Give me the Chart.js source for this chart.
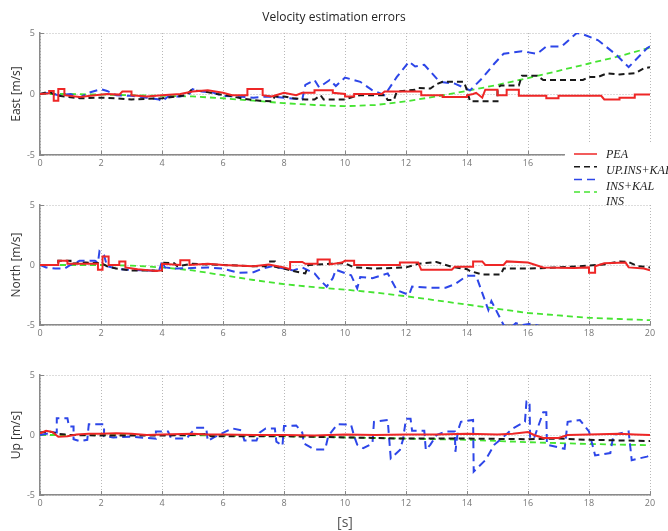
<!DOCTYPE html>
<html>
<head>
<meta charset="utf-8">
<title>Velocity estimation errors</title>
<script src="https://cdn.jsdelivr.net/npm/chart.js@4.4.1/dist/chart.umd.min.js"></script>
<style>
    body { margin: 0; background: #fff; }
    #wrap { position: relative; width: 668px; height: 531px; background: #fff; }
    canvas { position: absolute; left: 0; }
</style>
</head>
<body>
<div id="wrap">
    <canvas id="chart-up" width="668" height="181" style="top:350px"></canvas>
    <canvas id="chart-north" width="668" height="175" style="top:175px"></canvas>
    <canvas id="chart-east" width="668" height="206" style="top:0px"></canvas>
</div>
<script>
// tick labels / ranges
var xTicks = [0, 2, 4, 6, 8, 10, 12, 14, 16, 18, 20];
var yTicks = [-5, 0, 5];
var seriesNames = ['PEA', 'UP.INS+KAL', 'INS+KAL', 'INS'];
var panelLabels = ['East [m/s]', 'North [m/s]', 'Up [m/s]'];

// East: [time s, error m/s]
var eastPEA = [[0,0],[0.3,0.05],[0.3,0.25],[0.45,0.25],[0.45,-0.55],[0.6,-0.55],[0.6,0.4],[0.8,0.4],[0.8,-0.1],[1.3,-0.25],[1.8,-0.1],[2.2,0],[2.6,-0.05],[2.7,0.2],[3,0.2],[3,-0.1],[3.5,-0.2],[4,-0.1],[4.6,0],[5,0.2],[5.5,0.3],[6,0.1],[6.3,-0.1],[6.8,-0.1],[6.8,0.4],[7.3,0.4],[7.3,-0.1],[7.6,-0.2],[8,0.1],[8.4,-0.1],[8.6,0.1],[9,0.1],[9,0.3],[9.6,0.3],[9.6,0.1],[10,0],[10,-0.2],[10.3,-0.2],[10.3,0],[11.2,0],[11.3,0.2],[12.5,0.2],[12.5,-0.1],[13.2,-0.1],[13.2,-0.25],[14,-0.25],[14,-0.1],[14.2,0],[14.3,0.1],[14.5,-0.3],[14.6,0.35],[15,0.35],[15,-0.1],[15.3,-0.1],[15.3,0.35],[15.7,0.35],[15.7,-0.15],[16.6,-0.15],[16.6,-0.35],[17,-0.35],[17,-0.15],[18.4,-0.15],[18.5,-0.45],[19,-0.45],[19,-0.3],[19.5,-0.3],[19.5,-0.05],[20,-0.05]];
var eastUP = [[0,0],[0.3,0.2],[0.5,-0.1],[0.8,-0.2],[1.3,-0.35],[2,-0.3],[2.5,-0.35],[3,-0.45],[3.5,-0.4],[4,-0.35],[4.5,-0.2],[4.8,-0.1],[4.95,0.3],[5.3,0.25],[5.8,0],[6.2,-0.15],[6.7,-0.4],[7.2,-0.55],[7.6,-0.6],[7.7,-0.2],[8,-0.2],[8.3,-0.35],[8.7,-0.45],[9,-0.45],[9.2,-0.1],[9.3,-0.45],[10,-0.45],[10.3,-0.2],[10.5,-0.1],[11.3,-0.1],[11.4,-0.5],[11.6,-0.5],[11.7,0.2],[12.3,0.35],[12.4,0.5],[12.8,0.45],[13,0.8],[13.2,1],[13.9,1],[14,0.3],[14.1,-0.6],[15,-0.6],[15,0.45],[15.1,0.7],[15.7,0.7],[15.8,1.5],[16.3,1.5],[16.5,1.15],[17.8,1.15],[18,1.4],[18.3,1.4],[18.6,1.7],[19,1.6],[19.5,1.7],[19.8,2.1],[20,2.2]];
var eastKAL = [[0,0],[0.3,0.1],[0.6,-0.1],[1,0],[1.3,-0.3],[1.6,0.1],[2,0.4],[2.2,0.25],[2.5,-0.1],[3,-0.15],[3.5,-0.3],[3.9,-0.45],[4,-0.6],[4.2,-0.2],[4.6,-0.2],[4.9,0],[5,0.4],[5.3,0.2],[5.7,0.1],[6,-0.15],[6.5,-0.2],[7,-0.3],[7.5,-0.2],[8,-0.3],[8.6,-0.45],[8.7,0.75],[9,1.15],[9.15,0.55],[9.5,1.15],[9.7,0.65],[10,1.35],[10.5,1],[10.9,0.3],[11.3,-0.1],[11.7,1.4],[12.1,2.65],[12.3,2.25],[12.6,2.4],[13.1,1],[13.6,0.85],[14.1,0.3],[14.5,1.3],[14.9,2.5],[15.2,3.3],[15.8,3.5],[16.3,3.3],[16.6,3.9],[17.1,3.9],[17.6,5],[17.8,4.9],[18.3,4.4],[18.9,3.2],[19.3,2.2],[19.9,3.75],[20,3.9]];
var eastINS = [[0,0],[1,0],[2,-0.05],[3,-0.1],[4,-0.15],[5,-0.2],[6,-0.35],[7,-0.55],[8,-0.75],[9,-0.9],[10,-1],[11,-0.9],[12,-0.6],[13,-0.2],[14,0.25],[15,0.75],[16,1.3],[17,1.9],[18,2.5],[19,3.1],[20,3.8]];

// North
var northPEA = [[0,0],[0.6,0],[0.6,0.35],[0.9,0.35],[0.9,0.1],[1.9,0.1],[1.9,-0.4],[2.05,-0.4],[2.05,0.7],[2.25,0.7],[2.25,0],[2.6,0],[2.6,0.3],[2.8,0.3],[2.8,-0.2],[3.2,-0.35],[3.8,-0.5],[4,-0.45],[4,0.1],[4.6,0],[4.6,0.4],[4.9,0.4],[4.9,0],[5.5,0.1],[6,0],[7,-0.1],[7.5,0.05],[8,-0.2],[8.2,-0.35],[8.2,0.25],[8.6,0.25],[8.7,0.1],[9.1,0.1],[9.1,0.45],[9.5,0.45],[9.5,0.05],[9.9,0.2],[10,0.35],[10.3,0.35],[10.3,0],[11.8,0],[11.8,0.2],[12.4,0.2],[12.5,-0.4],[13.5,-0.4],[13.6,-0.15],[14.2,-0.15],[14.2,0.3],[14.5,0.3],[14.6,0],[15.2,0],[15.3,0.3],[16,0.2],[16.5,-0.2],[17.5,-0.25],[18,-0.2],[18,-0.65],[18.2,-0.65],[18.2,-0.1],[18.5,0.15],[19.2,0.2],[19.3,-0.2],[19.8,-0.3],[20,-0.45]];
var northUP = [[0,0],[0.6,0],[0.6,0.35],[1,0.35],[1,0.1],[1.5,0.2],[2,0.15],[2.2,-0.1],[2.5,-0.3],[3,-0.45],[3.5,-0.45],[4,-0.5],[4,0.2],[4.4,0.15],[4.5,-0.1],[5,0.1],[5.5,0.05],[6,0],[7,-0.1],[7.4,-0.1],[7.5,0.3],[7.7,0.3],[7.7,-0.15],[8,-0.3],[8.3,-0.5],[8.7,-0.7],[8.8,0],[9.5,0.1],[10,0.15],[10.3,-0.2],[11,-0.3],[12,-0.2],[12.4,0.1],[13,0.25],[13.5,-0.15],[14,-0.35],[14.1,-0.5],[14.5,-0.8],[15.1,-0.8],[15.2,-0.3],[16,-0.3],[17,-0.2],[18,-0.05],[18.5,0.05],[19,0.3],[19.3,0.25],[19.6,-0.1],[20,-0.2]];
var northKAL = [[0,0],[0.2,-0.2],[0.5,-0.3],[0.8,-0.3],[1,0],[1.3,0.35],[1.8,0.35],[1.9,0.2],[1.95,1.15],[2.1,0.8],[2.2,-0.1],[2.6,-0.35],[3,-0.4],[3.5,-0.45],[3.9,-0.5],[4,0.3],[4.1,-0.2],[4.5,-0.3],[5,-0.25],[5.5,-0.2],[6,-0.3],[6.5,-0.65],[7,-0.6],[7.3,-0.3],[7.6,-0.1],[8,-0.3],[8.3,-0.45],[8.6,-0.2],[9,-0.7],[9.2,-1.3],[9.4,-1.8],[9.6,-1.1],[9.7,-0.4],[10.2,-0.85],[10.4,-1.95],[10.5,-1],[10.9,-1.1],[11.4,-0.7],[11.7,-2.1],[12.1,-2.5],[12.2,-1.8],[12.8,-1.9],[13.3,-1.9],[13.6,-1.6],[14,-0.9],[14.3,-0.9],[14.7,-3.75],[14.8,-3],[15.2,-5],[15.4,-5.3],[15.6,-4.85],[15.8,-5],[16.1,-4.9],[16.4,-5.1],[16.6,-5.8],[17.5,-7],[20,-8]];
var northINS = [[0,0],[1,0],[2,0],[3,-0.05],[4,-0.2],[5,-0.45],[6,-0.85],[7,-1.25],[8,-1.6],[9,-1.85],[10,-2.05],[11,-2.3],[12,-2.6],[13,-2.95],[14,-3.3],[15,-3.65],[16,-4],[17,-4.2],[18,-4.4],[19,-4.5],[20,-4.6]];

// Up
var upPEA = [[0,0.15],[0.2,0.35],[0.4,0.25],[0.6,-0.15],[0.9,-0.1],[1.2,0.05],[1.6,0.1],[2,0.1],[2.5,0.15],[3,0.1],[3.5,0],[4,0.05],[5,0.1],[5.5,0.05],[6,0.05],[7,0],[8,0],[9,-0.05],[10,0.05],[11,0],[12,0.05],[13,0.05],[14,0.1],[15,0.05],[15.5,0.1],[16,0.25],[16.2,0],[16.5,-0.25],[17,-0.25],[17.3,0],[18,0.05],[19,0.1],[19.5,0.05],[20,0]];
var upUP = [[0,0.2],[0.3,0.3],[0.6,0.1],[1,0],[2,-0.05],[4,-0.05],[5,0],[5.5,0.1],[5.6,-0.1],[6,-0.1],[8,-0.1],[9,-0.15],[10,-0.2],[12,-0.3],[14,-0.3],[16,-0.35],[17,-0.3],[18,-0.4],[19,-0.45],[20,-0.5]];
var upKAL = [[0,0],[0.4,0.2],[0.55,0.2],[0.55,1.4],[0.9,1.4],[0.95,0.7],[1.1,0.7],[1.1,-0.35],[1.3,-0.5],[1.55,-0.4],[1.6,0.9],[2.1,0.9],[2.1,-0.1],[2.4,-0.2],[3,-0.15],[3.5,-0.25],[3.8,-0.3],[3.8,0.3],[4.2,0.3],[4.3,-0.3],[4.8,-0.3],[4.9,0],[5.1,0.6],[5.45,0.6],[5.5,-0.5],[5.7,-0.2],[6.1,0.3],[6.3,0.55],[6.6,0.4],[6.7,-0.45],[7.1,-0.45],[7.2,0.2],[7.4,0.55],[7.7,0.55],[7.75,-0.55],[7.95,-0.9],[8,0.75],[8.4,0.8],[8.6,0.2],[8.65,-0.7],[9,-1.2],[9.35,-1.2],[9.45,-0.1],[9.75,0.9],[10.2,0.85],[10.3,-0.1],[10.4,-0.8],[10.6,-1.1],[10.9,-0.7],[10.95,1.1],[11.4,1.25],[11.5,-1.95],[11.8,-1.25],[11.9,-0.4],[12,1.35],[12.15,1.35],[12.2,0.35],[12.6,0.35],[12.65,-1.25],[12.8,-0.8],[13,0],[13.3,0.3],[13.6,0.3],[13.62,-1.4],[13.7,0.35],[13.8,1.1],[14.2,1.25],[14.22,-3.05],[14.6,-2.1],[14.9,-0.8],[15.2,-0.15],[15.5,0.55],[15.9,1.1],[15.95,2.8],[16.05,2.8],[16.07,-0.3],[16.2,-0.25],[16.5,1.9],[16.6,1.9],[16.62,-0.8],[17.2,-1.15],[17.3,1.1],[17.7,1.25],[18,0.3],[18.2,-1.7],[18.7,-1.5],[18.8,0],[19.3,0.3],[19.4,-2.1],[19.9,-1.8],[20,-1.7]];
var upINS = [[0,0],[2,0],[4,0],[6,-0.05],[8,-0.1],[10,-0.2],[12,-0.3],[14,-0.4],[16,-0.6],[18,-0.75],[20,-0.85]];

var lineColors = ['rgb(238, 38, 38)', 'rgb(25, 25, 25)', 'rgb(45, 70, 232)', 'rgb(70, 228, 50)'];
var lineDashes = [[], [6, 4], [8, 5], [6, 4]];
var lineWidths = [2, 2, 2, 1.8];

Chart.defaults.font.family = '"Open Sans", sans-serif';
Chart.defaults.animation = false;

function toPoints(pairs) {
    return pairs.map(function (p) { return { x: p[0], y: p[1] }; });
}

function makeDatasets(series) {
    return series.map(function (s, i) {
        return {
            label: seriesNames[i],
            data: toPoints(s),
            borderColor: lineColors[i],
            borderDash: lineDashes[i],
            borderWidth: lineWidths[i],
            pointRadius: 0,
            fill: false,
            tension: 0
        };
    });
}

// legend box hanging below the first panel
var sideLegend = {
    id: 'sideLegend',
    afterDraw: function (chart) {
        var ctx = chart.ctx;
        ctx.save();
        ctx.fillStyle = '#fff';
        ctx.fillRect(565, 143, 103, 61);
        ctx.font = 'italic 12px "Liberation Serif", serif';
        ctx.textBaseline = 'middle';
        chart.data.datasets.forEach(function (ds, i) {
            var ly = 154 + i * 12.7;
            ctx.strokeStyle = ds.borderColor;
            ctx.lineWidth = 1.5;
            ctx.setLineDash(ds.borderDash);
            ctx.beginPath();
            ctx.moveTo(574, ly);
            ctx.lineTo(597, ly);
            ctx.stroke();
            ctx.setLineDash([]);
            ctx.fillStyle = '#222';
            ctx.fillText(ds.label, 606, 155 + i * 15.7);
        });
        ctx.restore();
    }
};

function makeChart(id, label, series, cfg) {
    var yWidth = 40 - cfg.padding.left;
    var options = {
        responsive: false,
        layout: { padding: cfg.padding },
        plugins: {
            legend: { display: false },
            tooltip: { enabled: false },
            title: cfg.title ? {
                display: true,
                text: cfg.title,
                color: '#222',
                font: { size: 12, weight: 'normal' },
                padding: { top: 10, bottom: 8.6 }
            } : { display: false }
        },
        scales: {
            x: {
                type: 'linear',
                min: xTicks[0],
                max: xTicks[xTicks.length - 1],
                afterBuildTicks: function (scale) {
                    scale.ticks = xTicks.map(function (v) { return { value: v }; });
                },
                afterFit: function (scale) { scale.height = cfg.xHeight; },
                ticks: { color: '#777', font: { size: 9 }, padding: 7, maxRotation: 0 },
                grid: { color: '#b8b8b8', lineWidth: 1, drawTicks: true, tickLength: -4, tickColor: '#888', tickWidth: 1 },
                border: { color: '#8a8a8a', width: 1.5, dash: [1, 2] },
                title: cfg.xTitle ? {
                    display: true,
                    text: cfg.xTitle,
                    color: '#555',
                    font: { size: 14 },
                    padding: { top: 0, bottom: 0 }
                } : { display: false }
            },
            y: {
                min: yTicks[0],
                max: yTicks[yTicks.length - 1],
                afterBuildTicks: function (scale) {
                    scale.ticks = yTicks.map(function (v) { return { value: v }; });
                },
                afterFit: function (scale) { scale.width = yWidth; },
                ticks: { color: '#777', font: { size: 9 }, padding: 9 },
                grid: { color: '#b8b8b8', lineWidth: 1, drawTicks: true, tickLength: -4, tickColor: '#888', tickWidth: 1 },
                border: { color: '#8a8a8a', width: 1.5, dash: [1, 2] },
                title: {
                    display: true,
                    text: label,
                    color: '#333',
                    font: { size: 12 },
                    padding: { top: 9 - cfg.padding.left, bottom: 0 }
                }
            }
        }
    };
    var ctx = document.getElementById(id).getContext('2d');
    return new Chart(ctx, {
        type: 'line',
        data: { datasets: makeDatasets(series) },
        options: options,
        plugins: cfg.legend ? [sideLegend] : []
    });
}

window.eastChart = makeChart('chart-east', panelLabels[0], [eastPEA, eastUP, eastKAL, eastINS],
    { title: 'Velocity estimation errors', padding: { top: 0, right: 18, bottom: 31, left: 18 }, xHeight: 20, legend: true });
window.northChart = makeChart('chart-north', panelLabels[1], [northPEA, northUP, northKAL, northINS],
    { padding: { top: 30, right: 18, bottom: 5, left: 0 }, xHeight: 20 });
window.upChart = makeChart('chart-up', panelLabels[2], [upPEA, upUP, upKAL, upINS],
    { padding: { top: 25, right: 18, bottom: 0, left: 0 }, xHeight: 36, xTitle: '[s]' });
</script>
</body>
</html>
